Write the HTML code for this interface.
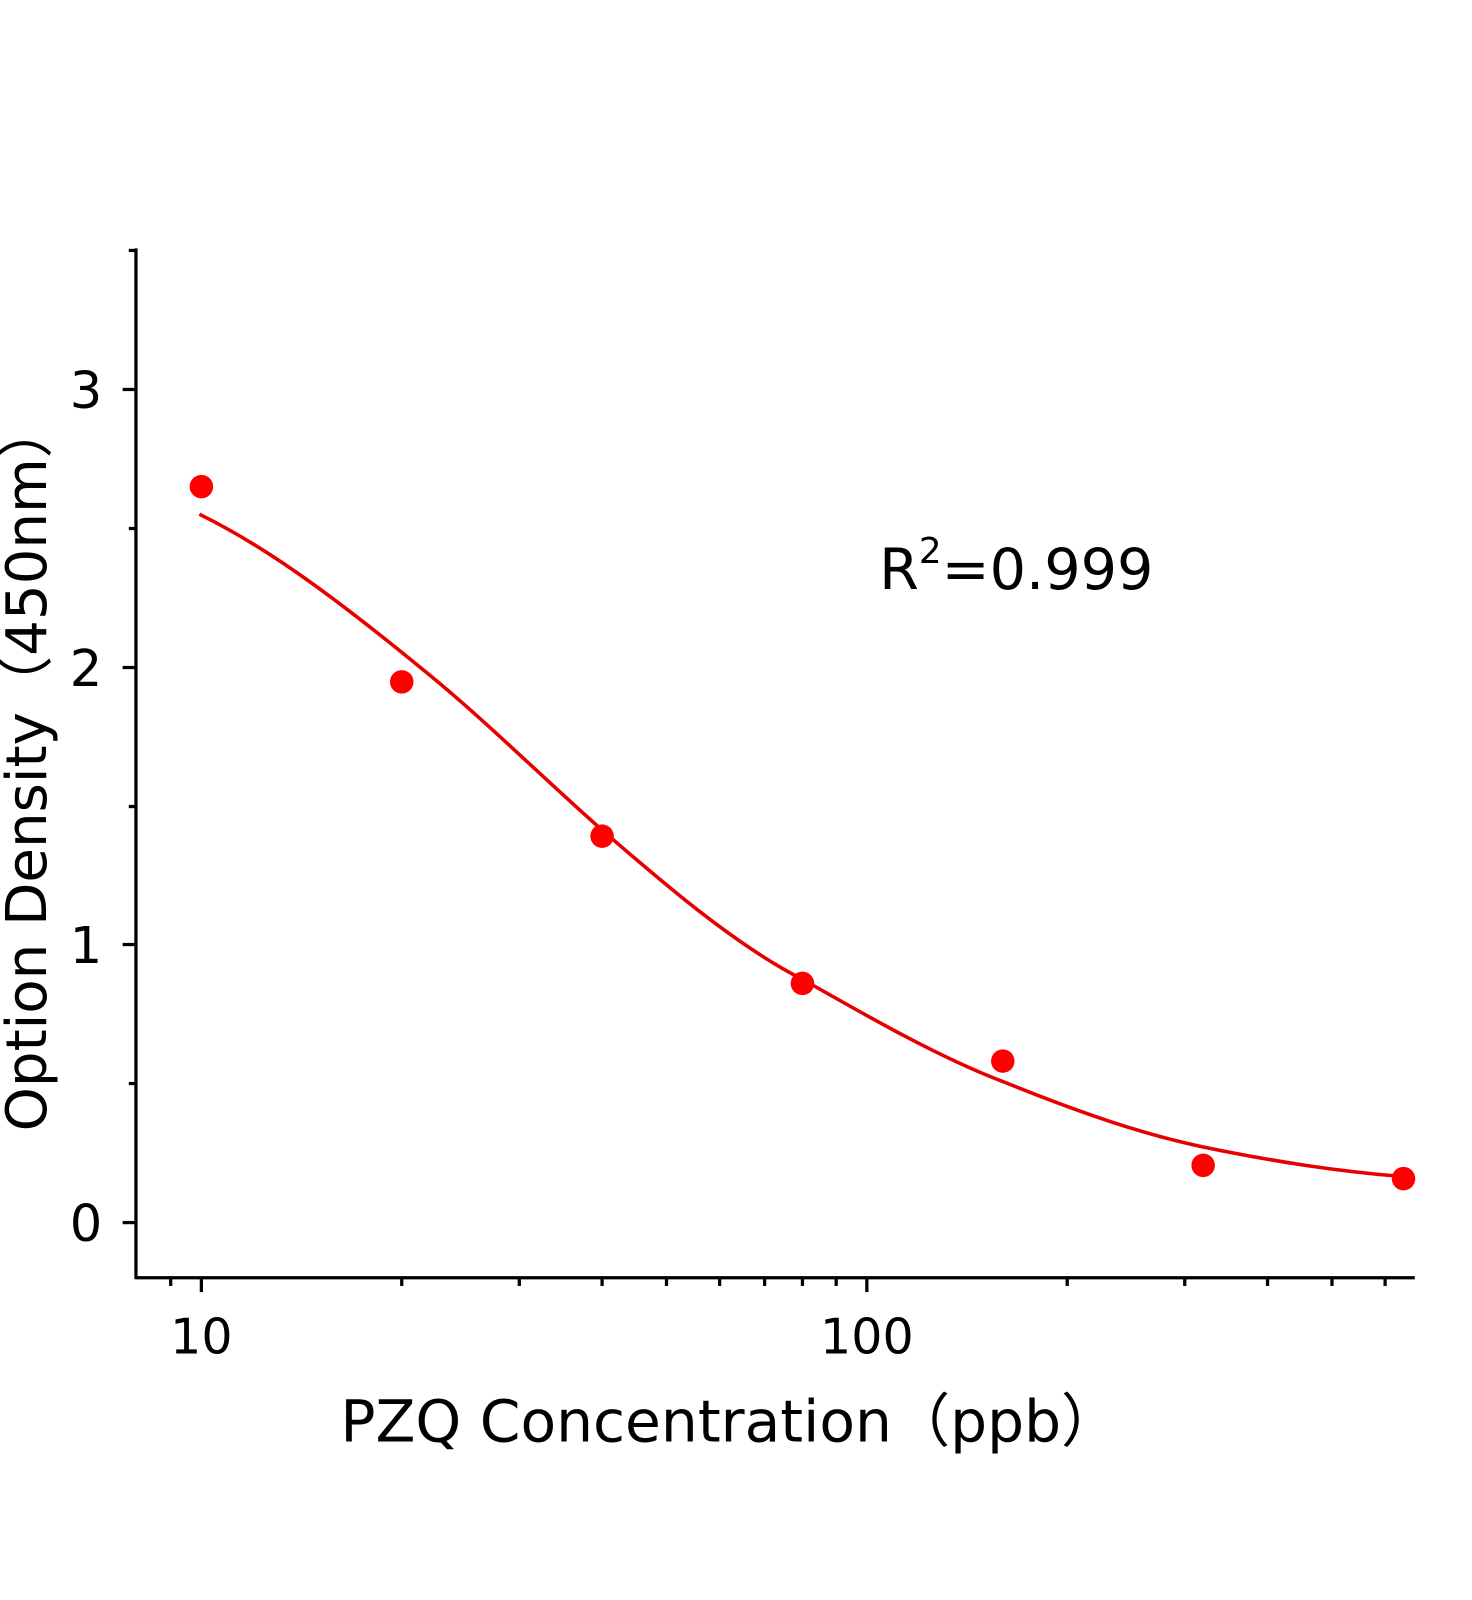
<!DOCTYPE html>
<html><head><meta charset="utf-8"><style>
html,body{margin:0;padding:0;background:#fff;}
svg{display:block;}
text{font-family:"DejaVu Sans","Liberation Sans","Noto Sans CJK SC",sans-serif;fill:#000;}
</style></head><body>
<svg width="1472" height="1600" viewBox="0 0 1440 1565.2" xmlns="http://www.w3.org/2000/svg">
<g stroke="#000" stroke-width="3.2" fill="none">
<line x1="133" y1="243" x2="133" y2="1251"/>
<line x1="132" y1="1250" x2="1384" y2="1250"/>
<line x1="120" y1="1196" x2="133" y2="1196"/>
<line x1="120" y1="924" x2="133" y2="924"/>
<line x1="120" y1="653" x2="133" y2="653"/>
<line x1="120" y1="381" x2="133" y2="381"/>
<line x1="126" y1="1060" x2="133" y2="1060"/>
<line x1="126" y1="789" x2="133" y2="789"/>
<line x1="126" y1="517" x2="133" y2="517"/>
<line x1="126" y1="245" x2="133" y2="245"/>
<line x1="197" y1="1250" x2="197" y2="1264"/>
<line x1="848" y1="1250" x2="848" y2="1264"/>
<line x1="167" y1="1250" x2="167" y2="1258"/>
<line x1="393" y1="1250" x2="393" y2="1258"/>
<line x1="508" y1="1250" x2="508" y2="1258"/>
<line x1="589" y1="1250" x2="589" y2="1258"/>
<line x1="652" y1="1250" x2="652" y2="1258"/>
<line x1="704" y1="1250" x2="704" y2="1258"/>
<line x1="748" y1="1250" x2="748" y2="1258"/>
<line x1="785" y1="1250" x2="785" y2="1258"/>
<line x1="818" y1="1250" x2="818" y2="1258"/>
<line x1="1044" y1="1250" x2="1044" y2="1258"/>
<line x1="1159" y1="1250" x2="1159" y2="1258"/>
<line x1="1240" y1="1250" x2="1240" y2="1258"/>
<line x1="1303" y1="1250" x2="1303" y2="1258"/>
<line x1="1355" y1="1250" x2="1355" y2="1258"/>
</g>
<g font-size="50" text-anchor="end">
<text x="100" y="1214">0</text>
<text x="100" y="942">1</text>
<text x="100" y="671">2</text>
<text x="100" y="399">3</text>
</g>
<g font-size="48" text-anchor="middle">
<text x="197" y="1324">10</text>
<text x="848" y="1324">100</text>
</g>
<text x="714" y="1410" font-size="57" text-anchor="middle">PZQ Concentration（ppb）</text>
<text transform="translate(45,750) rotate(-90)" font-size="55" text-anchor="middle">Option Density（450nm）</text>
<text x="860" y="576" font-size="56">R<tspan font-size="35" dy="-25">2</tspan><tspan dy="25">=0.999</tspan></text>
<path d="M195,503 C250,530 310,570 410,652 C470,700 530,760 589,812 C650,865 720,925 785,958 C850,995 920,1035 981,1058 C1060,1090 1120,1110 1177,1122 C1250,1137 1310,1146 1373,1151" stroke="#e60000" stroke-width="3.5" fill="none"/>
<g fill="#f00">
<circle cx="197" cy="476" r="11.5"/>
<circle cx="393" cy="667" r="11.5"/>
<circle cx="589" cy="818" r="11.5"/>
<circle cx="785" cy="962" r="11.5"/>
<circle cx="981" cy="1038" r="11.5"/>
<circle cx="1177" cy="1140" r="11.5"/>
<circle cx="1373" cy="1153" r="11.5"/>
</g>
</svg>
</body></html>
